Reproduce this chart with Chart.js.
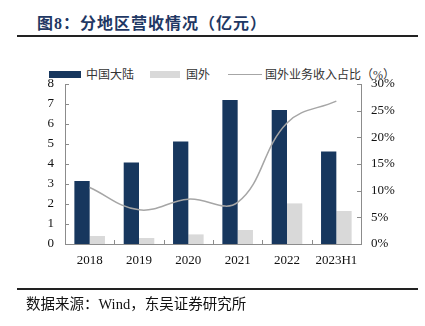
<!DOCTYPE html>
<html><head><meta charset="utf-8">
<script src="https://cdn.jsdelivr.net/npm/chart.js@4/dist/chart.umd.min.js"></script>
<style>
html,body{margin:0;padding:0;background:#fff;width:425px;height:326px;overflow:hidden;position:relative;font-family:"Liberation Serif","Noto Sans CJK SC",serif;}
#title{position:absolute;left:37px;top:10px;font-size:16px;font-weight:bold;color:#1f3864;font-family:"Liberation Serif","Noto Sans CJK SC",serif;white-space:nowrap;letter-spacing:1px;}
.rule{position:absolute;left:17px;width:401px;height:2px;background:#222;}
#src{position:absolute;left:26px;top:292px;font-size:14.5px;color:#111;white-space:nowrap;font-family:"Liberation Serif","Noto Sans CJK SC",serif;}
#legend{position:absolute;top:65px;left:0;height:14px;font-size:12px;color:#333;font-family:"Liberation Serif","Noto Sans CJK SC",serif;}
#legend span{position:absolute;white-space:nowrap;}
canvas{position:absolute;left:0;top:0;}
</style></head>
<body>
<div id="title">图8：分地区营收情况（亿元）</div>
<div class="rule" style="top:35px"></div>
<div id="legend">
 <span style="left:49px;top:6px;width:32px;height:7px;background:#17375e"></span>
 <span style="left:86px;top:0px">中国大陆</span>
 <span style="left:150px;top:6px;width:30px;height:7px;background:#d9d9d9"></span>
 <span style="left:186px;top:0px">国外</span>
 <span style="left:228px;top:9px;width:34px;height:1px;background:#a6a6a6"></span>
 <span style="left:265px;top:0px">国外业务收入占比（%）</span>
</div>
<canvas id="c" width="425" height="326"></canvas>
<div class="rule" style="top:288px"></div>
<div id="src">数据来源：Wind，东吴证券研究所</div>
<script>
const categories = ["2018","2019","2020","2021","2022","2023H1"];
const mainland = [3.15, 4.08, 5.13, 7.2, 6.7, 4.62];
const overseas = [0.4, 0.3, 0.48, 0.7, 2.03, 1.65];
const overseasShare = [10.6, 6.4, 8.4, 7.8, 22.7, 26.8];
const leftTicks = [0,1,2,3,4,5,6,7,8];
const rightTicks = [0,5,10,15,20,25,30];

const tickFont = {family:"'Liberation Serif', serif", size:13};
const inwardTicks = {
  id:'inwardTicks',
  afterDatasetsDraw(chart){
    const ctx = chart.ctx, a = chart.chartArea;
    const y = chart.scales.y, y1 = chart.scales.y1, x = chart.scales.x;
    ctx.save();
    ctx.strokeStyle = '#8c8c8c'; ctx.lineWidth = 1;
    ctx.beginPath();
    y.ticks.forEach((t,i)=>{const p=Math.round(y.getPixelForTick(i))+0.5; ctx.moveTo(a.left,p); ctx.lineTo(a.left+4,p);});
    y1.ticks.forEach((t,i)=>{const p=Math.round(y1.getPixelForTick(i))+0.5; ctx.moveTo(a.right,p); ctx.lineTo(a.right-4,p);});
    for(let i=1;i<categories.length;i++){
      const p = Math.round((x.getPixelForValue(i-1)+x.getPixelForValue(i))/2)+0.5;
      ctx.moveTo(p,a.bottom); ctx.lineTo(p,a.bottom-4);
    }
    ctx.stroke();
    ctx.restore();
  }
};

new Chart(document.getElementById('c'), {
  data:{
    labels: categories,
    datasets:[
      {type:'line', label:'国外业务收入占比（%）', data: overseasShare, yAxisID:'y1', borderColor:'#a6a6a6', borderWidth:1.5, pointRadius:0, tension:0.4, fill:false, order:0},
      {type:'bar', label:'中国大陆', data: mainland, yAxisID:'y', backgroundColor:'#17375e', categoryPercentage:0.62, barPercentage:1.0, order:1},
      {type:'bar', label:'国外', data: overseas, yAxisID:'y', backgroundColor:'#d9d9d9', categoryPercentage:0.62, barPercentage:1.0, order:1}
    ]
  },
  options:{
    responsive:false, animation:false,
    layout:{padding:{top:84,left:0,right:0,bottom:0}},
    plugins:{legend:{display:false}, tooltip:{enabled:false}},
    scales:{
      x:{
        grid:{display:false, drawTicks:false},
        border:{color:'#8c8c8c', width:1},
        ticks:{color:'#111', font:tickFont, padding:9, maxRotation:0},
        afterFit(s){ s.height = 82; }
      },
      y:{
        position:'left', min:0, max:8,
        afterBuildTicks(s){ s.ticks = leftTicks.map(v=>({value:v})); },
        grid:{display:false, drawTicks:false},
        border:{color:'#8c8c8c', width:1},
        ticks:{color:'#111', font:tickFont, padding:11},
        afterFit(s){ s.width = 65; }
      },
      y1:{
        position:'right', min:0, max:30,
        afterBuildTicks(s){ s.ticks = rightTicks.map(v=>({value:v})); },
        grid:{display:false, drawTicks:false},
        border:{color:'#8c8c8c', width:1},
        ticks:{color:'#111', font:tickFont, padding:10, callback:v=>v+'%'},
        afterFit(s){ s.width = 64; }
      }
    }
  },
  plugins:[inwardTicks]
});
</script>
</body></html>
